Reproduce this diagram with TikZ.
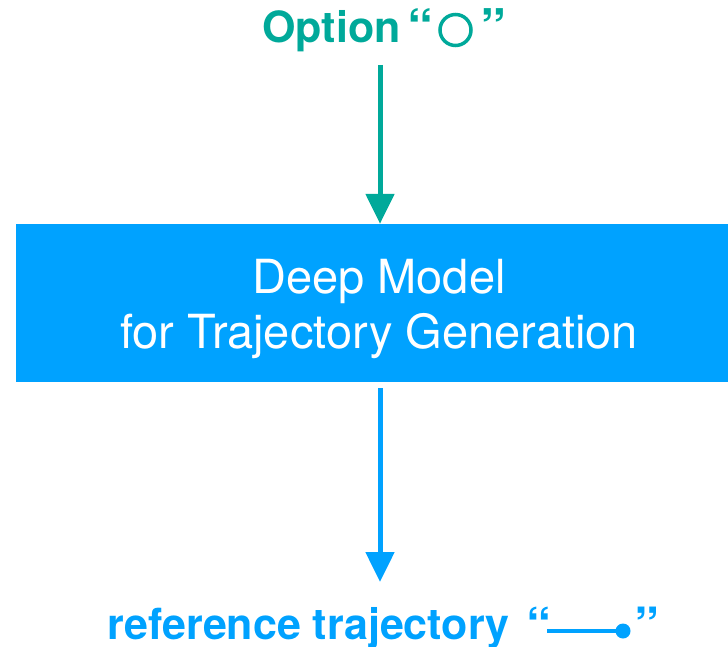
\documentclass[tikz,border=0pt]{standalone}
\usepackage{fontspec}
\setmainfont{TeX Gyre Heros}
\usetikzlibrary{arrows.meta}
\definecolor{optgreen}{HTML}{00A99A}
\definecolor{modelblue}{HTML}{00A2FF}
\tikzset{
  modelbox/.style={fill=modelblue, draw=none, minimum width=712pt, minimum height=158pt, inner sep=0pt},
  modeltext/.style={text=white, align=center, font=\fontsize{47}{55}\selectfont, inner sep=0pt},
  flowarrow/.style={line width=5pt, -{Triangle[width=28pt,length=30pt]}},
  optlabel/.style={text=optgreen, font=\fontsize{43}{50}\selectfont\bfseries, inner sep=0pt},
  optquote/.style={text=optgreen, font=\fontsize{52}{50}\selectfont\bfseries, inner sep=0pt},
  reflabel/.style={text=modelblue, font=\fontsize{43}{48}\selectfont\bfseries, inner sep=0pt},
  refquote/.style={text=modelblue, font=\fontsize{50}{48}\selectfont\bfseries, inner sep=0pt},
}
\begin{document}
\begin{tikzpicture}[x=1pt,y=-1pt]
\useasboundingbox (0,0) rectangle (728,647);

% central model block
\node[modelbox] (model) at (372,303) {};
\node[modeltext] (modeltext) at (379,309) {Deep Model\\for Trajectory Generation};

% option label with its circle glyph
\node[optlabel, anchor=base west] (optword) at (262,43) {Option};
\node[optquote, anchor=base west] (optopen) at (407,47) {“};
\node[draw=optgreen, line width=3.5pt, circle, minimum size=31pt, inner sep=0pt] (optmark) at (455.5,30) {};
\node[optquote, anchor=base west] (optclose) at (480,47) {”};

% reference trajectory label with line-and-dot glyph
\node[reflabel, anchor=base west] (refword) at (107,639) {reference trajectory};
\node[refquote, anchor=base west] (refopen) at (526,643) {“};
\coordinate (refstart) at (547,631);
\node[fill=modelblue, circle, minimum size=15pt, inner sep=0pt] (refdot) at (623,631) {};
\draw[modelblue, line width=4pt] (refstart) -- (refdot.center);
\node[refquote, anchor=base west] (refclose) at (634,643) {”};

% connectors
\coordinate (intop) at (380,65);
\coordinate (outbottom) at (380,582);
\draw[flowarrow, optgreen] (intop) -- (intop |- model.north);
\draw[flowarrow, modelblue, shorten <=6pt] (outbottom |- model.south) -- (outbottom);
\end{tikzpicture}
\end{document}
